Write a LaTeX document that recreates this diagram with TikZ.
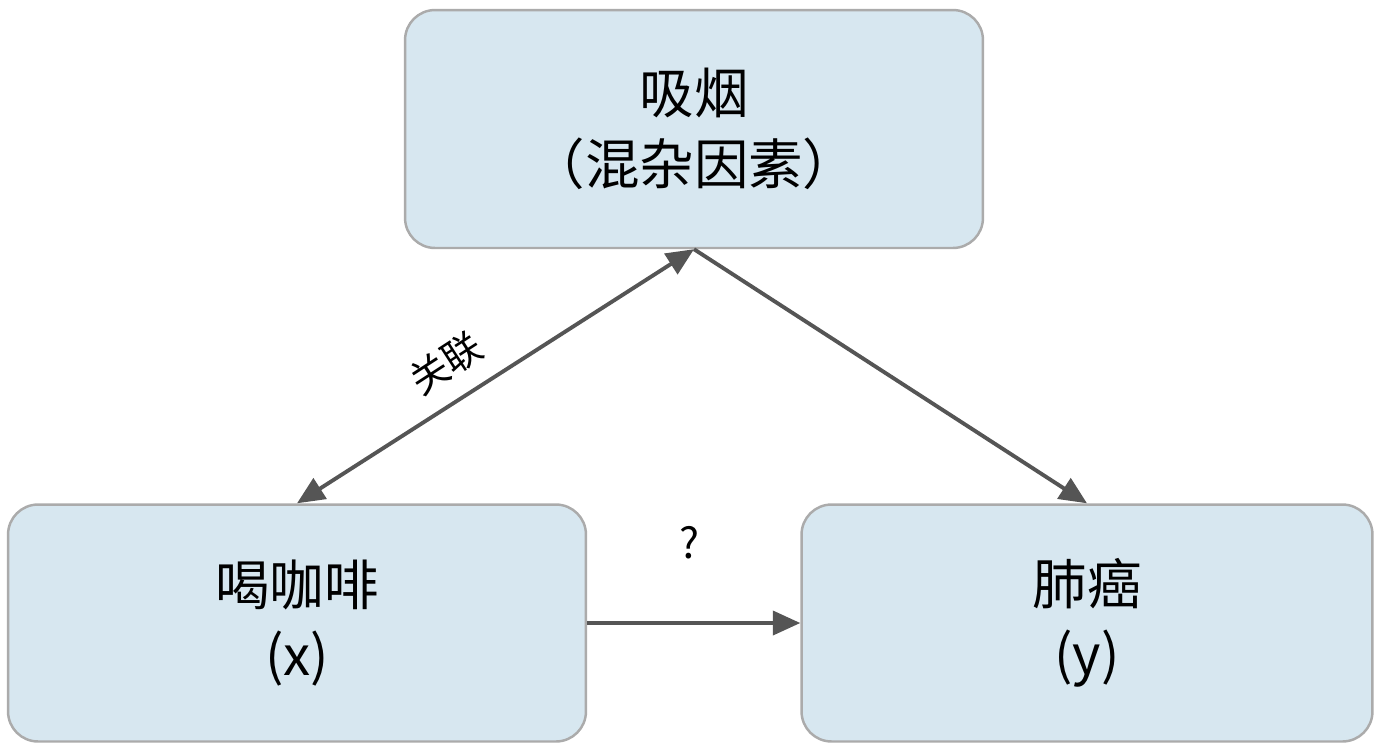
\documentclass[tikz,border=0pt]{standalone}
\usepackage{fontspec}
\setmainfont{Noto Sans CJK SC}
\usetikzlibrary{arrows.meta}
\definecolor{boxfill}{HTML}{D7E7F0}
\definecolor{boxline}{HTML}{ABABAB}
\definecolor{arr}{HTML}{555555}
\begin{document}
\begin{tikzpicture}[x=0.02cm,y=-0.02cm,
  box/.style={draw=boxline,line width=1.4pt,fill=boxfill,rounded corners=0.6cm,align=center,font=\fontsize{31}{40}\selectfont,inner sep=0pt},
  conn/.style={draw=arr,line width=2.2pt,-{Triangle[length=0.55cm,width=0.48cm]}}]
\useasboundingbox (0,0) rectangle (1382,752);
\node[box,minimum width=11.56cm,minimum height=4.76cm] (top) at (694,129) {吸烟\\（混杂因素）};
\node[box,minimum width=11.56cm,minimum height=4.74cm] (x) at (297,623) {喝咖啡\\(x)};
\node[box,minimum width=11.42cm,minimum height=4.74cm] (y) at (1087,623) {肺癌\\(y)};
\draw[conn,{Triangle[length=0.55cm,width=0.48cm]}-{Triangle[length=0.55cm,width=0.48cm]}] (top.south) -- (x.north);
\node[font=\fontsize{22}{26}\selectfont,rotate=33,inner sep=1pt] (lab) at (446,363) {关联};
\draw[conn] (top.south) -- (y.north);
\draw[conn] (x.east) -- (y.west);
\node[font=\fontsize{24}{28}\selectfont] (q) at (689,543) {?};
\end{tikzpicture}
\end{document}
